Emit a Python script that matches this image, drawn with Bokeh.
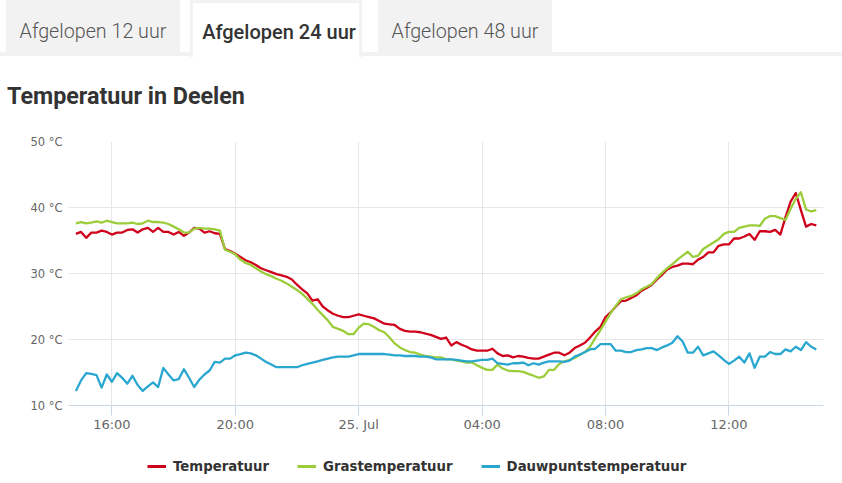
from bokeh.plotting import figure
from bokeh.models import Range1d, FixedTicker, Legend, LegendItem, Div, ColumnDataSource
from bokeh.layouts import column
from bokeh.embed import file_html
from bokeh.resources import INLINE

# ---------------- data ----------------
start_hour = 14 + 50 / 60      # 24 Jul 14:50 (hours, 24 = 25 Jul 00:00)
step_hours = 10 / 60           # one reading every 10 minutes

temperatuur = [
    36.0, 36.3, 35.4, 36.2, 36.2, 36.5, 36.3, 35.9, 36.2, 36.2,
    36.6, 36.7, 36.2, 36.7, 36.9, 36.3, 36.9, 36.3, 36.3, 35.9,
    36.3, 35.7, 36.2, 36.9, 36.8, 36.2, 36.4, 36.1, 36.0, 33.7,
    33.4, 33.0, 32.5, 32.0, 31.7, 31.3, 30.8, 30.5, 30.2, 29.9,
    29.7, 29.5, 29.1, 28.3, 27.6, 27.0, 25.9, 26.1, 25.0, 24.4,
    23.9, 23.6, 23.4, 23.4, 23.6, 23.8, 23.6, 23.4, 23.2, 22.8,
    22.4, 22.3, 22.2, 21.6, 21.3, 21.2, 21.2, 21.1, 20.9, 20.7,
    20.4, 20.1, 20.3, 19.1, 19.6, 19.2, 18.9, 18.5, 18.3, 18.3,
    18.3, 18.6, 17.9, 17.5, 17.6, 17.3, 17.5, 17.4, 17.2, 17.1,
    17.1, 17.4, 17.7, 18.0, 18.0, 17.6, 18.0, 18.7, 19.1, 19.5,
    20.3, 21.2, 21.9, 23.4, 24.1, 25.0, 25.8, 25.9, 26.3, 26.7,
    27.4, 27.8, 28.3, 29.1, 29.8, 30.6, 31.0, 31.2, 31.5, 31.5,
    31.4, 32.1, 32.5, 33.2, 33.2, 34.2, 34.4, 34.4, 35.3, 35.3,
    35.6, 36.0, 35.1, 36.4, 36.4, 36.3, 36.6, 35.9, 38.5, 40.9,
    42.2, 39.6, 37.1, 37.5, 37.3,
]

grastemperatuur = [
    37.6, 37.8, 37.6, 37.7, 37.9, 37.7, 38.0, 37.8, 37.6, 37.6,
    37.6, 37.7, 37.5, 37.6, 38.0, 37.8, 37.8, 37.7, 37.5, 37.1,
    36.7, 36.2, 36.2, 36.8, 36.9, 36.8, 36.8, 36.7, 36.5, 33.6,
    33.3, 32.9, 32.1, 31.6, 31.3, 30.8, 30.3, 29.9, 29.6, 29.2,
    28.9, 28.5, 28.0, 27.5, 26.9, 26.2, 25.4, 24.5, 23.7, 22.9,
    21.9, 21.6, 21.3, 20.8, 20.8, 21.8, 22.4, 22.3, 21.9, 21.4,
    21.1, 20.3, 19.4, 18.8, 18.4, 18.1, 18.0, 17.7, 17.5, 17.4,
    17.3, 17.3, 17.0, 17.0, 16.8, 16.7, 16.5, 16.5, 16.1, 15.7,
    15.4, 15.4, 16.2, 15.6, 15.3, 15.2, 15.2, 15.1, 14.8, 14.5,
    14.2, 14.4, 15.4, 15.4, 16.3, 16.7, 16.9, 17.2, 17.7, 18.1,
    18.9, 20.2, 21.4, 22.7, 24.0, 25.1, 26.1, 26.4, 26.6, 27.0,
    27.6, 28.0, 28.4, 29.3, 30.1, 30.8, 31.4, 32.1, 32.7, 33.3,
    32.5, 32.7, 33.7, 34.2, 34.7, 35.2, 36.0, 36.3, 36.3, 36.9,
    37.1, 37.3, 37.3, 37.2, 38.3, 38.7, 38.7, 38.4, 38.1, 39.8,
    41.3, 42.3, 39.7, 39.4, 39.6,
]

dauwpuntstemperatuur = [
    12.2, 13.8, 14.9, 14.8, 14.6, 12.7, 14.7, 13.6, 14.9, 14.2,
    13.3, 14.5, 13.1, 12.2, 12.9, 13.5, 12.8, 15.7, 14.7, 13.8,
    14.0, 15.5, 14.2, 12.8, 13.9, 14.7, 15.3, 16.6, 16.5, 17.1,
    17.1, 17.6, 17.8, 18.0, 17.9, 17.6, 17.1, 16.6, 16.2, 15.8,
    15.8, 15.8, 15.8, 15.8, 16.1, 16.3, 16.5, 16.7, 16.9, 17.1,
    17.3, 17.4, 17.4, 17.4, 17.6, 17.8, 17.8, 17.8, 17.8, 17.8,
    17.8, 17.7, 17.6, 17.6, 17.5, 17.5, 17.5, 17.4, 17.4, 17.3,
    17.0, 17.0, 17.0, 17.0, 16.9, 16.8, 16.7, 16.7, 16.8, 16.9,
    16.9, 17.1, 16.4, 16.3, 16.2, 16.4, 16.4, 16.5, 16.1, 16.4,
    16.2, 16.5, 16.7, 16.7, 16.7, 16.6, 16.8, 17.4, 17.7, 18.1,
    18.5, 18.6, 19.3, 19.3, 19.3, 18.3, 18.3, 18.1, 18.1, 18.4,
    18.5, 18.7, 18.7, 18.4, 18.8, 19.1, 19.5, 20.5, 19.7, 18.0,
    18.0, 18.9, 17.6, 17.9, 18.2, 17.6, 16.9, 16.3, 16.8, 17.4,
    16.5, 17.9, 15.7, 17.4, 17.4, 18.1, 17.8, 17.8, 18.5, 18.2,
    18.9, 18.4, 19.6, 18.9, 18.5,
]

series_names = ["Temperatuur", "Grastemperatuur", "Dauwpuntstemperatuur"]
series_colors = ["#d0021b", "#9bcc3a", "#2aa7d0"]

x_ticks = [16, 20, 24, 28, 32, 36]
x_tick_labels = ["16:00", "20:00", "25. Jul", "04:00", "08:00", "12:00"]
y_ticks = [10, 20, 30, 40, 50]
y_tick_labels = ["10 °C", "20 °C", "30 °C", "40 °C", "50 °C"]

tab_labels = ["Afgelopen 12 uur", "Afgelopen 24 uur", "Afgelopen 48 uur"]
chart_title = "Temperatuur in Deelen"

# ---------------- header (tabs + title) ----------------
header_html = f"""
<div style="position:relative;width:834px;height:133px;font-family:Roboto,sans-serif;">
  <div style="position:absolute;left:0px;top:52px;width:842px;height:4px;background:#f2f2f2;"></div>
  <div style="position:absolute;left:6px;top:0px;width:174px;height:56px;background:#f2f2f2;"></div>
  <div style="position:absolute;left:190px;top:0px;width:172px;height:57px;background:#ffffff;border:3px solid #f2f2f2;border-bottom:none;"></div>
  <div style="position:absolute;left:378px;top:0px;width:174px;height:56px;background:#f2f2f2;"></div>
  <div style="position:absolute;left:6px;top:22px;width:174px;text-align:center;font-size:19.7px;line-height:19.7px;font-weight:300;color:#555555;white-space:nowrap;">{tab_labels[0]}</div>
  <div style="position:absolute;left:190px;top:22px;width:178px;text-align:center;font-size:20px;line-height:20px;font-weight:500;color:#333333;white-space:nowrap;">{tab_labels[1]}</div>
  <div style="position:absolute;left:378px;top:22px;width:174px;text-align:center;font-size:19.7px;line-height:19.7px;font-weight:300;color:#555555;white-space:nowrap;">{tab_labels[2]}</div>
  <div style="position:absolute;left:7px;top:85px;font-size:23.3px;line-height:23.3px;font-weight:700;color:#333333;white-space:nowrap;">{chart_title}</div>
</div>
"""
header = Div(text=header_html, width=834, height=133, margin=(0, 0, 0, 0))

# ---------------- chart ----------------
x_hours = [start_hour + k * step_hours for k in range(len(temperatuur))]
source = ColumnDataSource(dict(
    x=x_hours,
    temp=temperatuur,
    gras=grastemperatuur,
    dauw=dauwpuntstemperatuur,
))
series_cols = ["temp", "gras", "dauw"]

p = figure(
    width=834, height=317,
    title=None,
    x_range=Range1d(14.593, 39.066),
    y_range=Range1d(10, 50),
    output_backend="svg",
    toolbar_location=None,
    min_border_left=68, min_border_right=11,
    min_border_top=8, min_border_bottom=45,
    margin=(0, 0, 0, 0),
)
p.outline_line_color = None
p.background_fill_color = "#ffffff"
p.border_fill_color = "#ffffff"

for col, color in zip(series_cols, series_colors):
    p.line("x", col, source=source, line_color=color, line_width=2.3, line_join="round")

# x axis
xa = p.xaxis[0]
xa.ticker = FixedTicker(ticks=x_ticks, minor_ticks=[])
xa.major_label_overrides = {t: l for t, l in zip(x_ticks, x_tick_labels)}
xa.axis_line_color = "#ccd6eb"
xa.major_tick_line_color = "#ccd6eb"
xa.major_tick_out = 10
xa.major_tick_in = 0
xa.minor_tick_line_color = None
xa.major_label_text_font = "DejaVu Sans"
xa.major_label_text_font_size = "13px"
xa.major_label_text_color = "#666666"
xa.major_label_standoff = 1

# y axis
ya = p.yaxis[0]
ya.ticker = FixedTicker(ticks=y_ticks, minor_ticks=[])
ya.major_label_overrides = {t: l for t, l in zip(y_ticks, y_tick_labels)}
ya.axis_line_color = None
ya.major_tick_line_color = None
ya.minor_tick_line_color = None
ya.major_label_text_font = "DejaVu Sans"
ya.major_label_text_font_size = "11.5px"
ya.major_label_text_color = "#666666"
ya.major_label_standoff = 0

p.xgrid.grid_line_color = "#e6e6e6"
p.ygrid.grid_line_color = "#e6e6e6"
p.xgrid.ticker = FixedTicker(ticks=x_ticks, minor_ticks=[])
p.ygrid.ticker = FixedTicker(ticks=y_ticks, minor_ticks=[])

# ---------------- legend strip (series lie outside its ranges, only the legend shows) ----------------
lg = figure(
    width=834, height=33,
    title=None,
    x_range=Range1d(0, 1), y_range=Range1d(0, 1),
    x_axis_type=None, y_axis_type=None,
    output_backend="svg",
    toolbar_location=None,
    min_border=0,
    margin=(0, 0, 0, 0),
)
lg.outline_line_color = None
lg.border_fill_color = "#ffffff"
lg.background_fill_color = "#ffffff"

legend_items = []
for name, col, color in zip(series_names, series_cols, series_colors):
    r = lg.line("x", col, source=source, line_color=color, line_width=3)
    legend_items.append(LegendItem(label=name, renderers=[r]))

legend = Legend(
    items=legend_items,
    orientation="horizontal",
    location=(79, 9),
    padding=0, margin=0, spacing=28,
    glyph_width=19, glyph_height=16, label_height=16, label_standoff=7,
    label_text_font="DejaVu Sans",
    label_text_font_style="bold",
    label_text_font_size="13.3px",
    label_text_color="#333333",
    border_line_color=None,
    background_fill_alpha=0,
)
lg.add_layout(legend, "center")

layout = column(header, p, lg, spacing=0, margin=(0, 0, 0, 0))

open("out.html", "w").write(file_html(layout, INLINE))
